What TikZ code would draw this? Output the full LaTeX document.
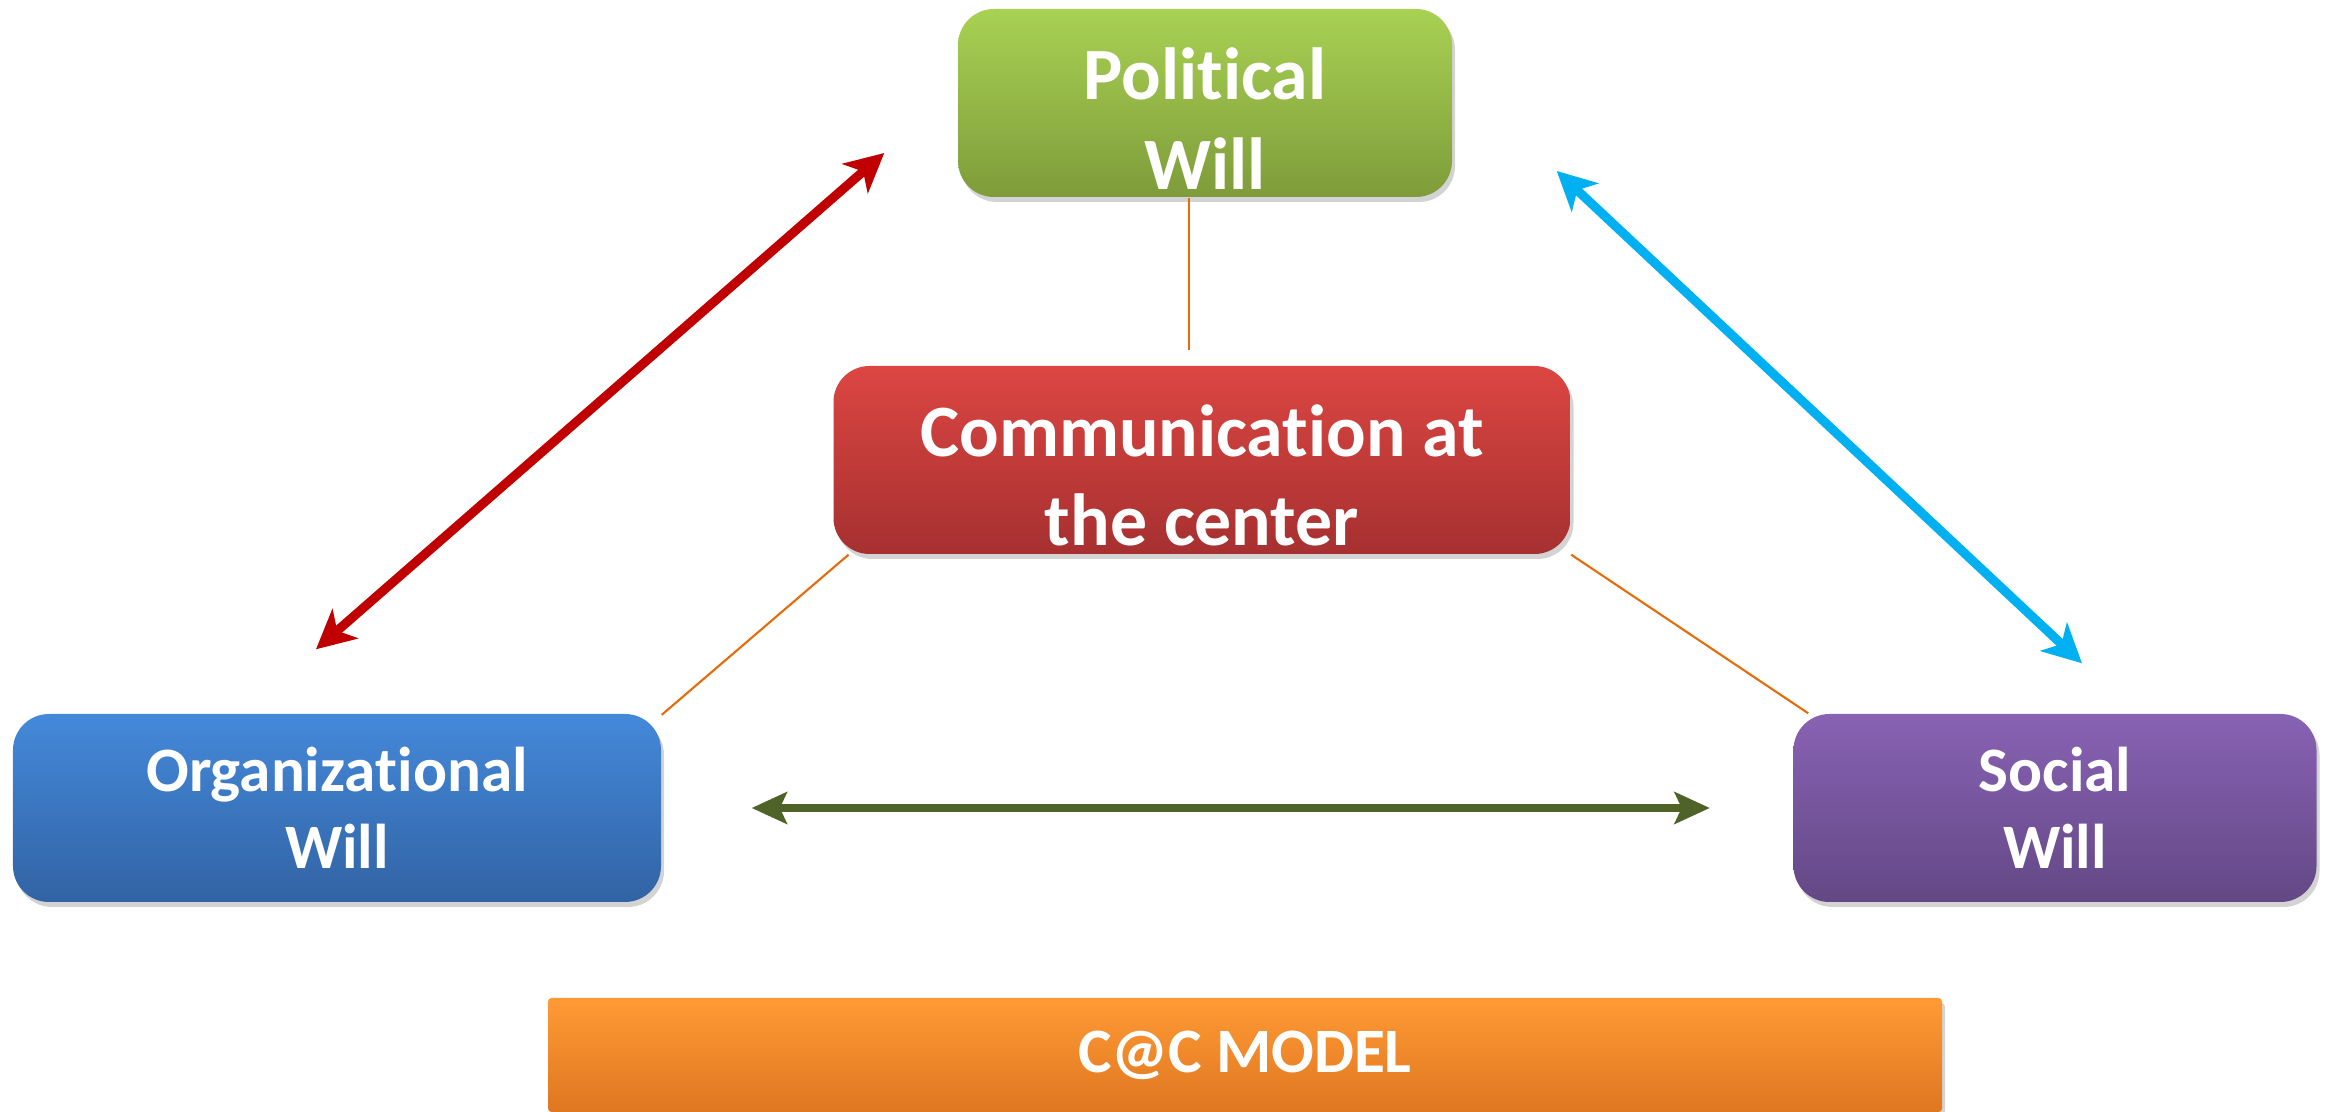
\documentclass[tikz,border=0pt]{standalone}
\usepackage{fontspec}
\setmainfont{Carlito}[Ligatures={NoCommon,NoContextual}, Contextuals=NoAlternate]
\usetikzlibrary{arrows.meta,shadows,calc}

\definecolor{polTop}{HTML}{A9D153}
\definecolor{polBot}{HTML}{7E9C3A}
\definecolor{comTop}{HTML}{DC4642}
\definecolor{comBot}{HTML}{A63030}
\definecolor{orgTop}{HTML}{4489DA}
\definecolor{orgBot}{HTML}{3263A4}
\definecolor{socTop}{HTML}{8862B4}
\definecolor{socBot}{HTML}{634885}
\definecolor{modTop}{HTML}{FF9A35}
\definecolor{modBot}{HTML}{DE7720}
\definecolor{linkOrange}{HTML}{E46C0A}
\definecolor{arrowRed}{HTML}{C00000}
\definecolor{arrowBlue}{HTML}{00B0F0}
\definecolor{arrowGreen}{HTML}{4F6228}

% extra room above the first line pushes the text down a little
\newcommand{\lowtext}{\rule{0pt}{23.5pt}}

\begin{document}
\begin{tikzpicture}[
    box/.style={rounded corners=0.36cm, inner sep=0pt, minimum height=1.88cm, align=center, text=white,
        font=\fontsize{18}{22}\selectfont\bfseries,
        drop shadow={opacity=0.35, shadow xshift=0.03cm, shadow yshift=-0.05cm}},
    bigtext/.style={font=\fontsize{21}{25.5}\selectfont\bfseries},
    link/.style={draw=linkOrange, line width=0.6pt},
    twoway/.style={<->, line width=2.6pt},
    >={Stealth[length=11pt, width=11pt, inset=3pt]}
]
\useasboundingbox (0,0) rectangle (23.28,-11.12);

\node[box, bigtext, minimum width=4.94cm, top color=polTop, bottom color=polBot] (pol) at (12.05,-1.03) {\lowtext Political\\Will};
\node[box, bigtext, minimum width=7.37cm, top color=comTop, bottom color=comBot] (com) at (12.02,-4.60) {\lowtext Communication at\\the center};
\node[box, minimum width=6.48cm, top color=orgTop, bottom color=orgBot] (org) at (3.37,-8.08) {Organizational\\Will};
\node[box, minimum width=5.23cm, top color=socTop, bottom color=socBot] (soc) at (20.55,-8.08) {Social\\Will};
\node[box, rounded corners=1pt, minimum width=13.94cm, minimum height=1.14cm, top color=modTop, bottom color=modBot] (model) at (12.45,-10.55) {C@C MODEL};

% thin links to the centre
\coordinate (gap) at (11.89,-3.50);
\draw[link] (pol.south -| gap) -- (gap);
\draw[link] (com.195) -- (org.16);
\draw[link] (com.south east) -- (soc.159);

% two-way arrows
\draw[twoway, arrowRed] ([shift={(-0.21,0.64)}]org.north) -- ([shift={(-0.73,-0.50)}]pol.west);
\draw[twoway, arrowBlue] ([shift={(1.04,-0.68)}]pol.east) -- ([shift={(0.27,0.50)}]soc.north);
\draw[twoway, arrowGreen, line width=2.1pt, >={Stealth[length=10pt, width=9pt, inset=2pt]}]
    ([shift={(0.90,0)}]org.east) -- ([shift={(-0.83,0)}]soc.west);
\end{tikzpicture}
\end{document}
